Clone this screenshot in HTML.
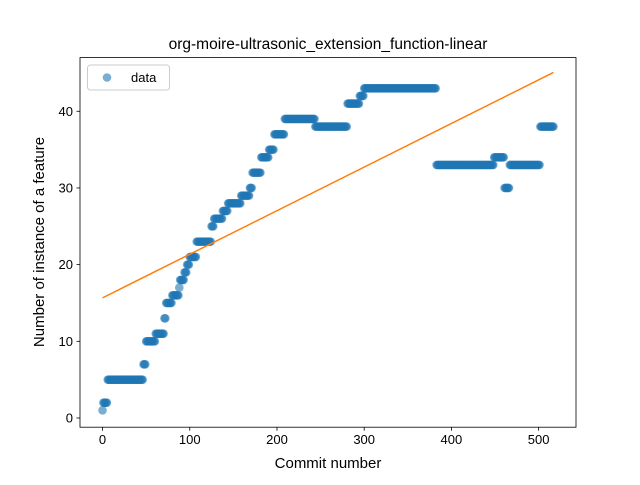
<!DOCTYPE html>
<html><head><meta charset="utf-8"><style>
body{margin:0;background:#fff;font-family:"Liberation Sans","DejaVu Sans",sans-serif}
</style></head><body>
<svg id="c" width="640" height="480" xmlns="http://www.w3.org/2000/svg"></svg>
<script>
// runs: start commit, end commit, feature count
const runStarts=[0,1,6,47,50,61,71,73,80,88,89,94,97,100,108,125,128,138,144,159,169,172,182,191,197,209,244,281,295,300,383,449,461,467,502];
const runEnds=  [0,5,46,49,60,70,72,79,87,88,93,96,99,107,124,127,137,143,158,168,171,181,190,196,208,243,280,294,299,382,448,460,466,501,517];
const runValues=[1,2,5,7,10,11,13,15,16,17,18,19,20,21,23,25,26,27,28,29,30,32,34,35,37,39,38,41,42,43,33,34,30,33,38];
const xTicks=[0,100,200,300,400,500];
const yTicks=[0,10,20,30,40];
const xMin=-25.85,xMax=542.85,yMin=-1.2,yMax=47;
const L=80,R=576,T=57.6,B=427.2;
const sx=v=>L+(v-xMin)/(xMax-xMin)*(R-L);
const sy=v=>B-(v-yMin)/(yMax-yMin)*(B-T);
const svg=document.getElementById('c');
const NS='http://www.w3.org/2000/svg';
function mk(t,a,p){const e=document.createElementNS(NS,t);for(const k in a)e.setAttribute(k,a[k]);(p||svg).appendChild(e);return e;}
const xs=[],ys=[];
for(let r=0;r<runStarts.length;r++)for(let x=runStarts[r];x<=runEnds[r];x++){xs.push(x);ys.push(runValues[r]);}
const g=mk('g',{});


for(let i=0;i<xs.length;i++){const c=mk('circle',{cx:sx(xs[i]),cy:sy(ys[i]),r:4.3,fill:'#1f77b4','fill-opacity':0.6},g);

}
// linear fit
const n=xs.length;let mx=0,my=0;for(let i=0;i<n;i++){mx+=xs[i];my+=ys[i];}mx/=n;my/=n;
let sxy=0,sxx=0;for(let i=0;i<n;i++){sxy+=(xs[i]-mx)*(ys[i]-my);sxx+=(xs[i]-mx)**2;}
const slope=sxy/sxx,icpt=my-slope*mx;const x0=xs[0],x1=xs[n-1];
const fl=mk('line',{x1:sx(x0),y1:sy(icpt+slope*x0),x2:sx(x1),y2:sy(icpt+slope*x1),stroke:'#ff7f0e','stroke-width':1.5});


const fr=mk('rect',{x:L,y:T,width:R-L,height:B-T,fill:'none',stroke:'#000','stroke-width':0.8});


xTicks.forEach(v=>{mk('line',{x1:sx(v),x2:sx(v),y1:B,y2:B+3.5,stroke:'#000','stroke-width':0.8});
const t=mk('text',{x:sx(v),y:B+17,'text-anchor':'middle','font-size':13});t.textContent=v;

});
yTicks.forEach(v=>{mk('line',{x1:L-3.5,x2:L,y1:sy(v),y2:sy(v),stroke:'#000','stroke-width':0.8});
const t=mk('text',{x:L-7,y:sy(v)+4.5,'text-anchor':'end','font-size':13});t.textContent=v;

});
</script>
<svg width="640" height="480" style="position:absolute;left:0;top:0" xmlns="http://www.w3.org/2000/svg">
<text x="328" y="49" text-anchor="middle" font-size="15.5">org-moire-ultrasonic_extension_function-linear</text>
<text x="328" y="468" text-anchor="middle" font-size="15">Commit number</text>
<text transform="translate(44,242) rotate(-90)" text-anchor="middle" font-size="15">Number of instance of a feature</text>
<g>
<rect x="87.5" y="65" width="82" height="25" rx="3" fill="#fff" fill-opacity="0.8" stroke="#ccc"/>
<circle cx="107" cy="77.5" r="4.3" fill="#1f77b4" fill-opacity="0.6"/>
<text x="131" y="82" font-size="13">data</text>
</g>
</svg>
</body></html>
